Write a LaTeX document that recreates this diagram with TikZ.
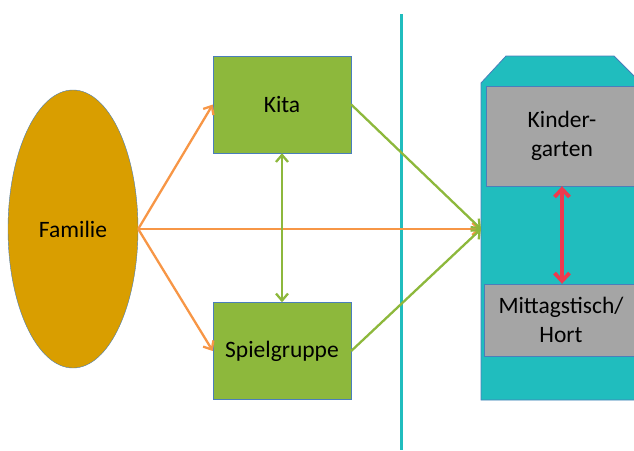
\documentclass[tikz,border=0pt]{standalone}
\usepackage{fontspec}
\setmainfont{Carlito}
\usetikzlibrary{shapes.geometric,arrows.meta}
\definecolor{famgold}{HTML}{D99E00}
\definecolor{boxgreen}{HTML}{8DB83C}
\definecolor{rimblue}{HTML}{4A7EBB}
\definecolor{schoolteal}{HTML}{20BDBE}
\definecolor{roomgray}{HTML}{A5A5A5}
\definecolor{arrorange}{HTML}{F79646}
\definecolor{arrred}{HTML}{EE3A4E}

\begin{document}
\begin{tikzpicture}[x=1pt,y=-1pt,
    txt/.style={font=\fontsize{23.5}{29}\selectfont,align=center,text=black},
    greenbox/.style={txt,draw=rimblue,fill=boxgreen,minimum width=138pt,minimum height=97pt,inner sep=0pt},
    graybox/.style={txt,draw=rimblue,fill=roomgray,inner sep=0pt},
    orangearr/.style={arrorange,line width=2.3pt,-{Straight Barb[length=7pt,width=12pt]}},
    greenarr/.style={boxgreen,line width=2.3pt,-{Straight Barb[length=7pt,width=12pt]}},
    greenboth/.style={boxgreen,line width=2.3pt,{Straight Barb[length=7pt,width=12pt]}-{Straight Barb[length=7pt,width=12pt]}},
    redboth/.style={arrred,line width=3.8pt,{Straight Barb[length=8pt,width=15pt]}-{Straight Barb[length=8pt,width=15pt]}}]
      \useasboundingbox (0,0) rectangle (634,450) ;
      \draw[schoolteal,line width=3pt] (401,14)--(401,450) ;
      % school building
      \draw[draw=rimblue,fill=schoolteal,line width=0.8pt] %
      (481,400)--(481,83)--(506,56)--(614,56)--(642,84)--(642,400)--cycle ;
      \coordinate (S) at (481,229) ;
      \node[graybox,minimum width=152pt,minimum height=100pt] (K) at (562,136) {Kinder-\\garten} ;
      \node[graybox,minimum width=154pt,minimum height=72pt] (M) at (561,320) {Mittagstisch/\\Hort} ;
      \node[txt,ellipse,draw=rimblue,fill=famgold,minimum width=130pt,minimum height=278pt,inner sep=0pt] %
      (F) at (73,229) {Familie} ;
      \node[greenbox] (Ki) at (282,104.5) {Kita} ;
      \node[greenbox] (Sp) at (282,351) {Spielgruppe} ;
      \draw[orangearr] (F.east)--(Ki.west) ;
      \draw[orangearr] (F.east)--(Sp.west) ;
      \draw[orangearr] (F.east)--(S) ;
      \draw[greenarr] (Ki.east)--(S) ;
      \draw[greenarr] (Sp.east)--(S) ;
      \draw[greenboth] (Ki.south)--(Sp.north) ;
      \draw[redboth] (K.south)--(K.south|-M.north) ;
    \end{tikzpicture}
\end{document}
